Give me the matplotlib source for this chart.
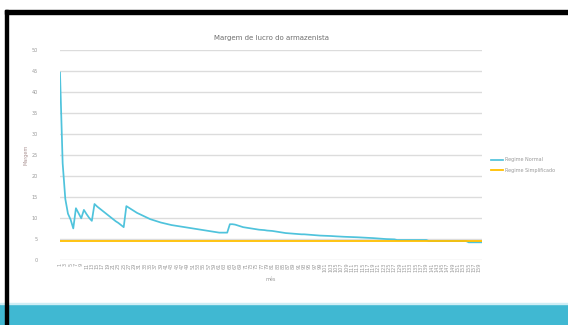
import matplotlib.pyplot as plt
from matplotlib.patches import Rectangle

# monthly margin, normal regime vs simplified regime
meses = list(range(1, 161))
margem_normal = [
    44.5, 23.0, 14.5, 11.0, 9.6, 7.5, 12.3, 11.1, 9.9, 11.9,
    10.9, 10.0, 9.3, 13.3, 12.7, 12.2, 11.7, 11.2, 10.7, 10.2,
    9.7, 9.2, 8.8, 8.3, 7.8, 12.8, 12.4, 12.0, 11.6, 11.2,
    10.9, 10.6, 10.3, 10.0, 9.7, 9.5, 9.3, 9.1, 8.9, 8.75,
    8.6, 8.45, 8.3, 8.2, 8.1, 8.0, 7.9, 7.8, 7.7, 7.6,
    7.5, 7.4, 7.3, 7.2, 7.1, 7.0, 6.9, 6.8, 6.7, 6.6,
    6.5, 6.5, 6.5, 6.5, 8.5, 8.5, 8.4, 8.2, 8.0, 7.8,
    7.7, 7.6, 7.5, 7.4, 7.3, 7.2, 7.15, 7.1, 7.0, 6.95,
    6.9, 6.8, 6.7, 6.6, 6.5, 6.4, 6.35, 6.3, 6.25, 6.2,
    6.15, 6.1, 6.1, 6.05, 6.0, 5.95, 5.9, 5.85, 5.8, 5.78,
    5.75, 5.72, 5.7, 5.65, 5.62, 5.58, 5.55, 5.52, 5.5, 5.47,
    5.45, 5.42, 5.4, 5.37, 5.35, 5.32, 5.3, 5.25, 5.2, 5.15,
    5.1, 5.05, 5.0, 4.97, 4.95, 4.92, 4.9, 4.75, 4.75, 4.75,
    4.75, 4.75, 4.75, 4.75, 4.75, 4.75, 4.75, 4.75, 4.75, 4.5,
    4.5, 4.5, 4.5, 4.5, 4.5, 4.5, 4.5, 4.5, 4.5, 4.5,
    4.5, 4.5, 4.5, 4.5, 4.2, 4.2, 4.2, 4.2, 4.2, 4.2,
]
margem_simples = [4.5] * len(meses)
yticks = [0, 5, 10, 15, 20, 25, 30, 35, 40, 45, 50]

fig = plt.figure(figsize=(5.68, 3.25), dpi=100)
ax = fig.add_axes([60/568, 65/325, 422/568, 210.5/325])

ax.plot(meses, margem_normal, color='#4FC3DC', lw=1.25, label='Regime Normal')
ax.plot(meses, margem_simples, color='#FFBF00', lw=1.3, label='Regime Simplificado')

ax.set_xlim(meses[0], meses[-1])
ax.set_ylim(0, 50)
ax.set_yticks(yticks)
ax.set_xticks(meses[::2])
ax.set_xticklabels([str(m) for m in meses[::2]], rotation=90)
ax.tick_params(axis='y', labelsize=3.5, colors='#999999', length=0, pad=16)
ax.tick_params(axis='x', labelsize=3.6, colors='#999999', length=0, pad=2)
ax.grid(axis='y', color='#dcdcdc', lw=1.0)
ax.set_axisbelow(True)
for s in ax.spines.values():
    s.set_visible(False)

ax.set_title('Margem de lucro do armazenista', fontsize=5, color='#6e6e6e', pad=7)
ax.set_ylabel('Margem', fontsize=3.5, color='#a89090', labelpad=2)
ax.set_xlabel('mês', fontsize=3.5, color='#999999', labelpad=3)

ax.legend(loc='center left', bbox_to_anchor=(1.01, 0.45), frameon=False,
          fontsize=3.5, labelcolor='#999999', handlelength=2.5, handletextpad=0.4,
          labelspacing=1.2)

# slide frame and footer band
fig.patches.append(Rectangle((0, 0), 1, 21/325, transform=fig.transFigure,
                             color='#40B8D2', zorder=0))
fig.patches.append(Rectangle((0, 21/325), 1, 1.5/325, transform=fig.transFigure,
                             color='#cfeef5', zorder=0))
fig.patches.append(Rectangle((5/568, 0), 3/568, 315/325, transform=fig.transFigure,
                             color='black', zorder=1))
fig.patches.append(Rectangle((5/568, 311/325), 563/568, 4/325, transform=fig.transFigure,
                             color='black', zorder=1))

fig.savefig('out.png', dpi=100)
